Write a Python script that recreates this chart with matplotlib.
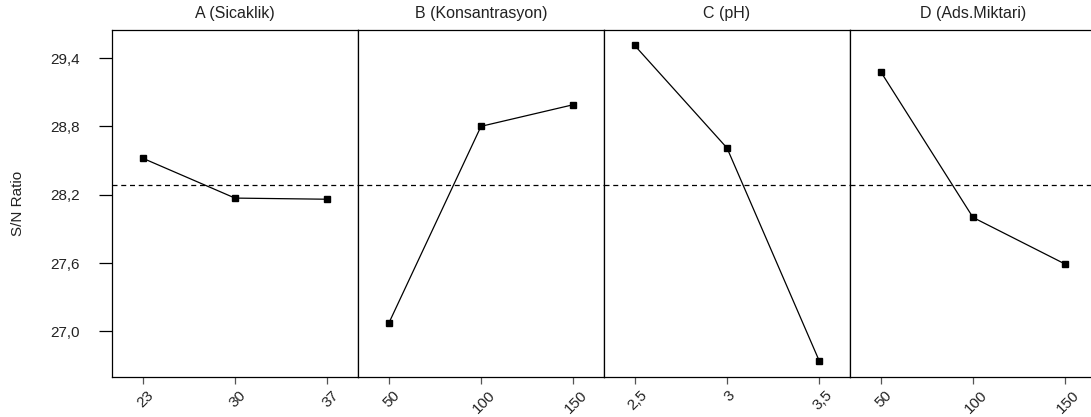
import matplotlib
matplotlib.use("Agg")
import matplotlib.pyplot as plt
import matplotlib.transforms as mtransforms

plt.rcParams['font.family'] = ['Liberation Sans', 'DejaVu Sans']

titles = ["A (Sicaklik)", "B (Konsantrasyon)", "C (pH)", "D (Ads.Miktari)"]
level_labels = [["23", "30", "37"], ["50", "100", "150"], ["2,5", "3", "3,5"], ["50", "100", "150"]]
sn_A = [28.52, 28.17, 28.16]
sn_B = [27.07, 28.80, 28.99]
sn_C = [29.51, 28.61, 26.74]
sn_D = [29.28, 28.00, 27.59]
series = [sn_A, sn_B, sn_C, sn_D]
mean_sn = 28.285
yticks = [27.0, 27.6, 28.2, 28.8, 29.4]
ytick_labels = ["27,0", "27,6", "28,2", "28,8", "29,4"]

W, H = 1091, 417
fig = plt.figure(figsize=(W / 100, H / 100), dpi=100)

left_px, top_px, bottom_px, panel_w = 112, 30, 377, 246
txt_color = '#222222'
axes = []
for i in range(4):
    x0 = (left_px + i * panel_w) / W
    ax = fig.add_axes([x0, 1 - bottom_px / H, panel_w / W, (bottom_px - top_px) / H])
    axes.append(ax)
    xs = [1, 2, 3]
    ax.plot(xs, series[i], color='black', lw=0.9, marker='s', ms=4.5,
            markerfacecolor='black', markeredgecolor='black')
    ax.axhline(mean_sn, color='black', lw=0.9, ls=(0, (4, 3)))
    ax.set_xlim(0.667, 3.333)
    ax.set_ylim(26.599, 29.646)
    ax.set_xticks(xs)
    ax.set_xticklabels(level_labels[i], rotation=45, ha='center', fontsize=11, color=txt_color)
    ax.tick_params(axis='x', length=5, width=0.9, color='#555555', pad=3)
    offset = mtransforms.ScaledTranslation(3 / 100, 0, fig.dpi_scale_trans)
    for lab in ax.get_xticklabels():
        lab.set_transform(lab.get_transform() + offset)
    ax.set_title(titles[i], fontsize=11.5, color=txt_color, pad=8.5)
    for s in ax.spines.values():
        s.set_linewidth(0.9)
        s.set_color('black')
    if i == 0:
        ax.set_yticks(yticks)
        ax.set_yticklabels(ytick_labels, fontsize=11, color=txt_color)
        ax.tick_params(axis='y', length=9.4, width=0.9, pad=14)
        ax.set_ylabel("S/N Ratio", fontsize=11, color=txt_color, labelpad=18)
    else:
        ax.set_yticks([])

fig.savefig("out.png", dpi=100)
